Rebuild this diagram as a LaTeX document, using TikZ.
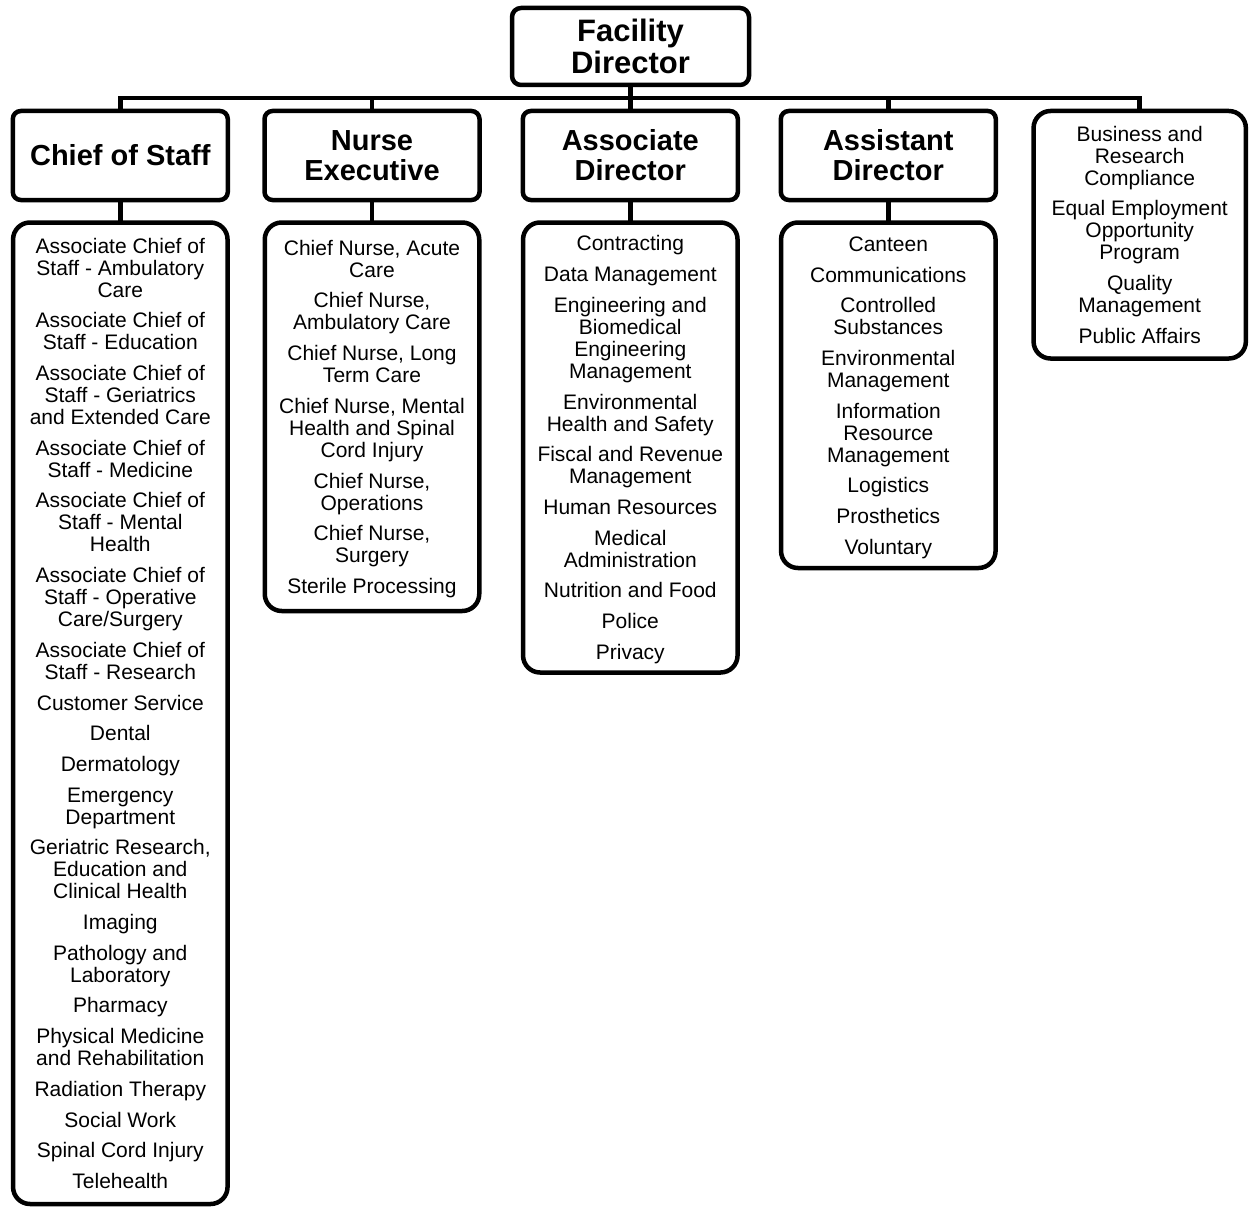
\documentclass[tikz,border=0pt]{standalone}
\usepackage{fontspec}
\setmainfont{Liberation Sans}
\newcommand\topstrut{\rule{0pt}{\dimexpr0.5\baselineskip+0.36em\relax}}
\newcommand\botstrut{\rule[\dimexpr-0.5\baselineskip+0.36em\relax]{0pt}{\dimexpr0.5\baselineskip-0.36em\relax}}
\newcommand\lastline[1]{\botstrut\smash{#1}}
\begin{document}
\begin{tikzpicture}[x=1pt,y=-1pt,
  box/.style={draw,line width=4.5pt,rounded corners=8pt,inner sep=0pt,outer sep=0pt,align=center,fill=white},
  head/.style={box,minimum width=215pt,minimum height=89pt,font=\bfseries\fontsize{29}{30}\selectfont},
  listbox/.style={box,rounded corners=17pt,minimum width=214.5pt,font=\fontsize{21}{22}\selectfont},
  conn/.style={line width=4.5pt}]
\useasboundingbox (0,0) rectangle (1249,1209);

\node[box,rounded corners=9pt,minimum width=237pt,minimum height=77pt,font=\bfseries\fontsize{31}{32}\selectfont] (fd) at (630.5,46.5) {\topstrut Facility\\\lastline{Director}};

\node[head] (cos) at (120.3,155.5) {\topstrut\lastline{Chief of Staff}};
\node[head] (ne) at (372,155.5) {\topstrut Nurse\\\lastline{Executive}};
\node[head] (ad) at (630.3,155.5) {\topstrut Associate\\\lastline{Director}};
\node[head] (asd) at (888.3,155.5) {\topstrut Assistant\\\lastline{Director}};

\node[listbox,minimum width=212.3pt,minimum height=247.5pt] (biz) at (1139.7,234.75) {\topstrut Business and\\Research\\Compliance\\[8.7pt]
Equal Employment\\Opportunity\\Program\\[8.7pt]
Quality\\Management\\[8.7pt]
\lastline{Public Affairs}};

\node[listbox,minimum height=981.5pt] (cosl) at (120.3,713.25) {\topstrut Associate Chief of\\Staff - Ambulatory\\Care\\[8.7pt]
Associate Chief of\\Staff - Education\\[8.7pt]
Associate Chief of\\Staff - Geriatrics\\and Extended Care\\[8.7pt]
Associate Chief of\\Staff - Medicine\\[8.7pt]
Associate Chief of\\Staff - Mental\\Health\\[8.7pt]
Associate Chief of\\Staff - Operative\\Care/Surgery\\[8.7pt]
Associate Chief of\\Staff - Research\\[8.7pt]
Customer Service\\[8.7pt]
Dental\\[8.7pt]
Dermatology\\[8.7pt]
Emergency\\Department\\[8.7pt]
Geriatric Research,\\Education and\\Clinical Health\\[8.7pt]
Imaging\\[8.7pt]
Pathology and\\Laboratory\\[8.7pt]
Pharmacy\\[8.7pt]
Physical Medicine\\and Rehabilitation\\[8.7pt]
Radiation Therapy\\[8.7pt]
Social Work\\[8.7pt]
Spinal Cord Injury\\[8.7pt]
\lastline{Telehealth}};

\node[listbox,minimum height=388.5pt] (nel) at (372,416.75) {\topstrut Chief Nurse, Acute\\Care\\[8.7pt]
Chief Nurse,\\Ambulatory Care\\[8.7pt]
Chief Nurse, Long\\Term Care\\[8.7pt]
Chief Nurse, Mental\\Health and Spinal\\Cord Injury\\[8.7pt]
Chief Nurse,\\Operations\\[8.7pt]
Chief Nurse,\\Surgery\\[8.7pt]
\lastline{Sterile Processing}};

\node[listbox,minimum height=450pt] (adl) at (630.3,447.5) {\topstrut Contracting\\[8.7pt]
Data Management\\[8.7pt]
Engineering and\\Biomedical\\Engineering\\Management\\[8.7pt]
Environmental\\Health and Safety\\[8.7pt]
Fiscal and Revenue\\Management\\[8.7pt]
Human Resources\\[8.7pt]
Medical\\Administration\\[8.7pt]
Nutrition and Food\\[8.7pt]
Police\\[8.7pt]
\lastline{Privacy}};

\node[listbox,minimum height=345.5pt] (asdl) at (888.3,395.25) {\topstrut Canteen\\[8.7pt]
Communications\\[8.7pt]
Controlled\\Substances\\[8.7pt]
Environmental\\Management\\[8.7pt]
Information\\Resource\\Management\\[8.7pt]
Logistics\\[8.7pt]
Prosthetics\\[8.7pt]
\lastline{Voluntary}};

\coordinate (bus) at (630,98);
\draw[conn] (cos.north) -- (cos.north |- bus) -- (biz.north |- bus) -- (biz.north);
\draw[conn] (ne.north) -- (ne.north |- bus);
\draw[conn] (asd.north) -- (asd.north |- bus);
\draw[conn] (fd.south) -- (fd.south |- ad.north);
\draw[conn] (cos.south) -- (cosl.north);
\draw[conn] (ne.south) -- (nel.north);
\draw[conn] (ad.south) -- (adl.north);
\draw[conn] (asd.south) -- (asdl.north);
\end{tikzpicture}
\end{document}
